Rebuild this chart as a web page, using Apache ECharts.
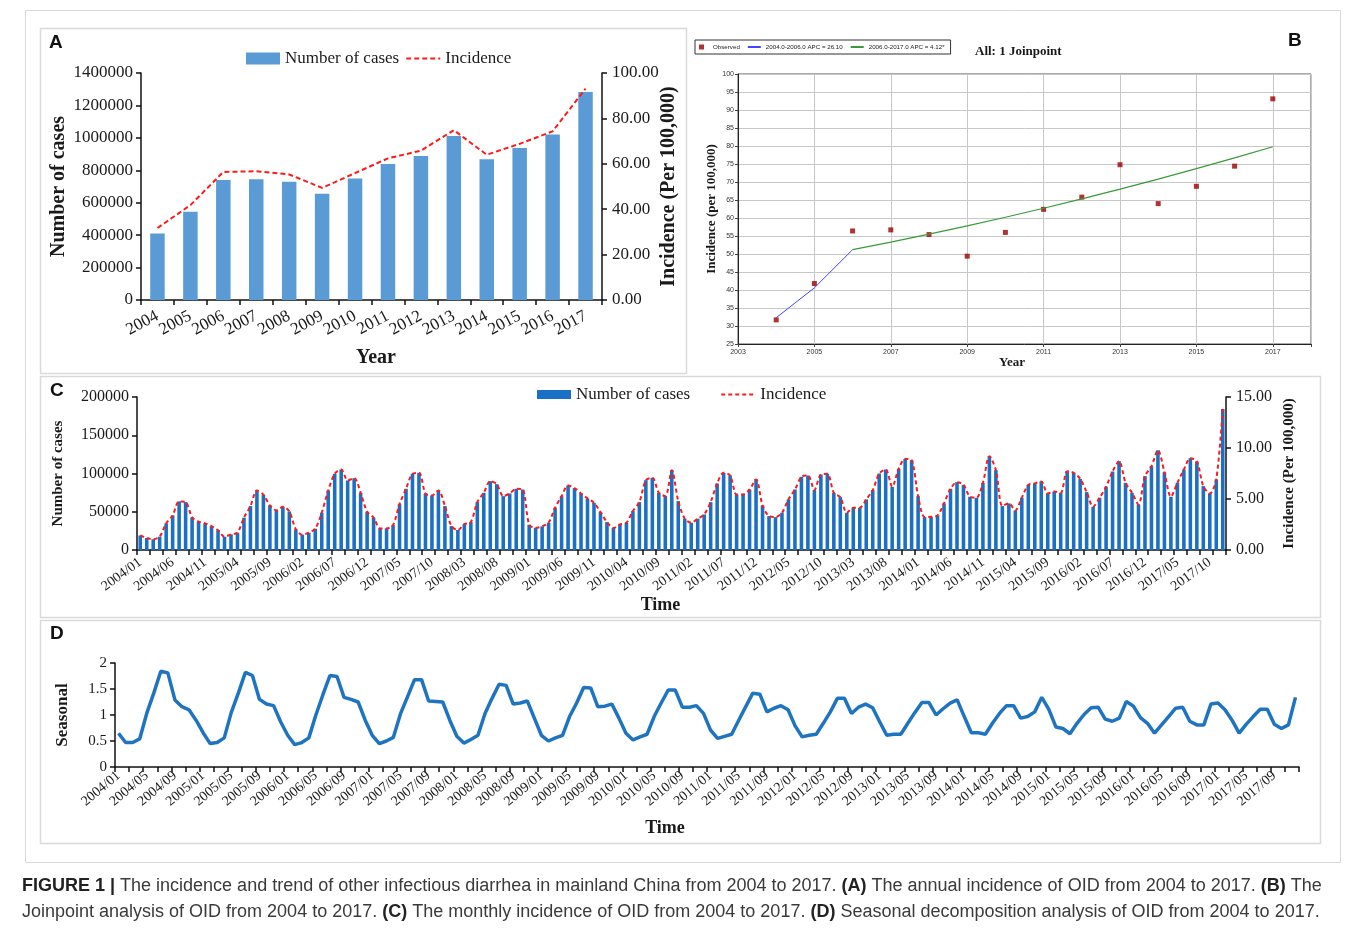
<!DOCTYPE html>
<html><head><meta charset="utf-8">
<script src="https://cdn.jsdelivr.net/npm/echarts@6/dist/echarts.min.js"></script>
<style>html,body{margin:0;padding:0;background:#fff;}#main{width:1357px;height:928px;}</style>
</head><body><div id="main"></div>
<script>
// ---------- Panel A: annual ----------
const years = ['2004','2005','2006','2007','2008','2009','2010','2011','2012','2013','2014','2015','2016','2017'];
const annualCases = [410000,545000,740000,745000,730000,655000,750000,838000,888000,1012000,868000,938000,1020000,1283000];
const annualIncidence = [31.7,41.8,56.4,56.7,55.3,49.4,55.9,62.4,65.8,74.8,64.0,68.8,74.3,93.1];

// ---------- Panel B: joinpoint ----------
const joinYears = [2004,2005,2006,2007,2008,2009,2010,2011,2012,2013,2014,2015,2016,2017];
const observed = [31.7,41.8,56.4,56.7,55.4,49.4,56.0,62.4,65.8,74.8,64.0,68.8,74.4,93.1];
const seg1Years = [2004,2005,2006];
const seg1Fit = [32.3,40.6,51.2];
const seg2Years = [2006,2007,2008,2009,2010,2011,2012,2013,2014,2015,2016,2017];
const seg2Fit = [51.2,53.3,55.5,57.8,60.2,62.7,65.3,68.0,70.8,73.7,76.7,79.8];

// ---------- Panel C: monthly ----------
const monthYears = ['2004','2005','2006','2007','2008','2009','2010','2011','2012','2013','2014','2015','2016','2017'];
const monthNums = ['01','02','03','04','05','06','07','08','09','10','11','12'];
const months = [];
monthYears.forEach(y => monthNums.forEach(m => months.push(y + '/' + m)));
const monthlyCases = [
 19000,15600,14000,17400,34800,45200,63500,62600,42600,37000,34800,31300,
 25700,17400,20400,22600,42200,57400,77800,72200,58300,51700,56500,50400,
 27000,20000,22600,27800,48700,77800,99600,105200,90900,93900,74800,50000,
 42200,28300,28300,32600,60000,80000,99600,100900,73900,71300,77800,57400,
 31300,26100,33900,36500,62600,74800,90000,86100,70400,73900,80000,79100,
 33000,29100,30900,35700,55200,70400,84300,80900,73900,67400,61700,49600,
 36500,28700,33500,35700,50900,62600,91300,94400,74800,70400,104300,63900,
 40900,35700,40900,46500,62600,87000,100900,97400,72600,72600,79100,92200,
 58300,44300,43000,48700,66100,79100,95700,97400,78300,98700,99600,74800,
 69100,48700,55200,55200,66100,78300,100000,105200,82600,106100,119100,117400,
 70400,43000,43500,45200,61000,80000,88700,85200,69600,68300,87800,122600,
 104300,57400,60900,51700,68300,85200,87000,89600,73900,76500,74800,103000,
 100900,93000,75700,56500,68300,82600,102600,116100,87800,74800,59600,96500,
 109600,130400,101700,69600,87800,105200,120000,115700,83500,73900,92200,184300];
const monthlyIncidence = [
 1.43,1.17,1.05,1.31,2.61,3.39,4.76,4.70,3.20,2.78,2.61,2.35,
 1.93,1.31,1.53,1.70,3.17,4.31,5.84,5.42,4.37,3.88,4.24,3.78,
 2.03,1.50,1.70,2.09,3.65,5.84,7.47,7.89,6.82,7.04,5.61,3.75,
 3.17,2.12,2.12,2.45,4.50,6.00,7.47,7.57,5.54,5.35,5.84,4.31,
 2.35,1.96,2.54,2.74,4.70,5.61,6.75,6.46,5.28,5.54,6.00,5.93,
 2.48,2.18,2.32,2.68,4.14,5.28,6.32,6.07,5.54,5.06,4.63,3.72,
 2.74,2.15,2.51,2.68,3.82,4.70,6.85,7.08,5.61,5.28,7.82,4.79,
 3.07,2.68,3.07,3.49,4.70,6.53,7.57,7.31,5.45,5.45,5.93,6.92,
 4.37,3.32,3.23,3.65,4.96,5.93,7.18,7.31,5.87,7.40,7.47,5.61,
 5.18,3.65,4.14,4.14,4.96,5.87,7.50,7.89,6.20,7.96,8.93,8.81,
 5.28,3.23,3.26,3.39,4.58,6.00,6.65,6.39,5.22,5.12,6.59,9.20,
 7.82,4.31,4.57,3.88,5.12,6.39,6.53,6.72,5.54,5.74,5.61,7.73,
 7.57,6.98,5.68,4.24,5.12,6.20,7.70,8.71,6.59,5.61,4.47,7.24,
 8.22,9.78,7.63,5.22,6.59,7.89,9.00,8.68,6.26,5.54,6.92,13.82];

// ---------- Panel D: seasonal ----------
const seasonal = [
 0.65,0.47,0.47,0.54,1.03,1.42,1.84,1.81,1.29,1.16,1.10,0.90,
 0.66,0.45,0.47,0.56,1.05,1.42,1.82,1.76,1.30,1.21,1.18,0.87,
 0.61,0.43,0.47,0.56,1.00,1.39,1.76,1.74,1.34,1.30,1.25,0.90,
 0.61,0.45,0.50,0.57,1.02,1.35,1.68,1.68,1.27,1.26,1.25,0.90,
 0.59,0.46,0.53,0.61,1.03,1.32,1.59,1.57,1.21,1.23,1.27,0.94,
 0.61,0.50,0.56,0.61,0.97,1.23,1.53,1.52,1.16,1.17,1.21,0.94,
 0.65,0.52,0.58,0.63,0.97,1.23,1.48,1.48,1.15,1.15,1.18,1.03,
 0.71,0.55,0.59,0.63,0.90,1.16,1.42,1.40,1.06,1.13,1.18,1.10,
 0.79,0.58,0.61,0.63,0.84,1.06,1.32,1.32,1.03,1.15,1.21,1.14,
 0.87,0.61,0.63,0.63,0.84,1.05,1.24,1.24,1.00,1.12,1.23,1.29,
 0.97,0.66,0.66,0.63,0.84,1.03,1.18,1.18,0.94,0.97,1.06,1.34,
 1.11,0.77,0.74,0.64,0.84,1.01,1.14,1.15,0.92,0.88,0.94,1.26,
 1.17,0.95,0.84,0.65,0.81,0.97,1.13,1.15,0.88,0.81,0.81,1.21,
 1.23,1.10,0.90,0.65,0.82,0.97,1.11,1.11,0.82,0.74,0.81,1.34];

const nameMap = {
  casesA:'Number of cases', incA:'Incidence', casesC:'Number of cases', incC:'Incidence',
  obs:'Observed', seg1:'2004.0-2006.0 APC = 26.10', seg2:'2006.0-2017.0 APC = 4.12*'
};

const serif = 'Liberation Serif';
const sans = 'Liberation Sans';
const ink = '#1a1a1a';
const axisLine = {show:true, lineStyle:{color:'#111', width:1.5}};
const axisTick = {show:true, length:5, lineStyle:{color:'#111', width:1.5}};
const frame = '#d9d9d9';
const noDot = {opacity:0};
const plain = v => String(v);

const chart = echarts.init(document.getElementById('main'), null, {renderer:'canvas'});

const option = {
  animation:false,
  backgroundColor:'#fff',
  grid:[
    {left:141, top:73, width:461, height:227},
    {left:738, top:74, width:573, height:270, show:true, borderColor:'#555', borderWidth:1, backgroundColor:'#fff'},
    {left:137, top:397, width:1089, height:153},
    {left:115, top:663, width:1184, height:104}
  ],
  legend:[
    {data:[{name:'casesA', icon:'rect'}, {name:'incA', itemStyle:noDot}], left:246, top:50, padding:0,
     itemWidth:34, itemHeight:12, itemGap:6, formatter:n=>nameMap[n],
     textStyle:{fontFamily:serif, fontSize:17, color:ink}},
    {data:[{name:'obs', icon:'path://M0,0H10V10H0Z'}, {name:'seg1', itemStyle:noDot}, {name:'seg2', itemStyle:noDot}], left:695, top:40,
     padding:[4,6,4,4], itemWidth:13, itemHeight:5, itemGap:7, borderColor:'#333', borderWidth:1,
     formatter:n=>nameMap[n], textStyle:{fontFamily:sans, fontSize:6.2, color:'#222'}},
    {data:[{name:'casesC', icon:'rect'}, {name:'incC', itemStyle:noDot}], left:537, top:386, padding:0,
     itemWidth:34, itemHeight:9, itemGap:30, formatter:n=>nameMap[n],
     textStyle:{fontFamily:serif, fontSize:17, color:ink}}
  ],
  xAxis:[
    {type:'category', gridIndex:0, data:years, axisLine, axisTick,
     axisLabel:{interval:0, rotate:28, fontFamily:serif, fontSize:17, color:ink, margin:15},
     name:'Year', nameLocation:'middle', nameGap:48, nameMoveOverlap:false,
     nameTextStyle:{fontFamily:serif, fontWeight:'bold', fontSize:20, color:ink, padding:[0,0,0,9]}},
    {type:'value', gridIndex:1, min:2003, max:2018, interval:2,
     axisLine:{show:true, lineStyle:{color:'#222', width:1}},
     axisTick:{show:true, length:3, lineStyle:{color:'#444'}},
     splitLine:{show:true, lineStyle:{color:'#c8c8c8', width:1}},
     axisLabel:{fontFamily:sans, fontSize:7, color:'#333', margin:5, formatter:v=>v===2018?'':String(v)},
     name:'Year', nameLocation:'middle', nameGap:12, nameMoveOverlap:false,
     nameTextStyle:{fontFamily:serif, fontWeight:'bold', fontSize:13, color:ink, padding:[0,25,0,0]}},
    {type:'category', gridIndex:2, data:months, axisLine,
     axisTick:{show:true, length:5, interval:1, lineStyle:{color:'#111', width:1.5}},
     axisLabel:{interval:4, rotate:36, fontFamily:serif, fontSize:14, color:ink, margin:11},
     name:'Time', nameLocation:'middle', nameGap:46, nameMoveOverlap:false,
     nameTextStyle:{fontFamily:serif, fontWeight:'bold', fontSize:18, color:ink, padding:[0,42,0,0]}},
    {type:'category', gridIndex:3, data:months, axisLine,
     axisTick:{show:true, length:5, interval:1, lineStyle:{color:'#111', width:1.5}},
     axisLabel:{interval:3, rotate:40, fontFamily:serif, fontSize:14, color:ink, margin:7},
     name:'Time', nameLocation:'middle', nameGap:52, nameMoveOverlap:false,
     nameTextStyle:{fontFamily:serif, fontWeight:'bold', fontSize:18, color:ink, padding:[0,84,0,0]}}
  ],
  yAxis:[
    {type:'value', gridIndex:0, min:0, max:1400000, interval:200000, axisLine, axisTick,
     splitLine:{show:false}, axisLabel:{fontFamily:serif, fontSize:17, color:ink, margin:8, formatter:plain},
     name:'Number of cases', nameLocation:'middle', nameRotate:90, nameGap:72, nameMoveOverlap:false,
     nameTextStyle:{fontFamily:serif, fontWeight:'bold', fontSize:20, color:ink}},
    {type:'value', gridIndex:0, position:'right', min:0, max:100, interval:20, axisLine, axisTick,
     splitLine:{show:false}, axisLabel:{fontFamily:serif, fontSize:17, color:ink, margin:10, formatter:v=>v.toFixed(2)},
     name:'Incidence (Per 100,000)', nameLocation:'middle', nameRotate:90, nameGap:57, nameMoveOverlap:false,
     nameTextStyle:{fontFamily:serif, fontWeight:'bold', fontSize:20, color:ink}},
    {type:'value', gridIndex:1, min:25, max:100, interval:5,
     axisLine:{show:true, lineStyle:{color:'#222', width:1}},
     axisTick:{show:true, length:3, lineStyle:{color:'#444'}},
     splitLine:{show:true, lineStyle:{color:'#c8c8c8', width:1}},
     axisLabel:{fontFamily:sans, fontSize:7, color:'#333', margin:4},
     name:'Incidence (per 100,000)', nameLocation:'middle', nameRotate:90, nameGap:20, nameMoveOverlap:false,
     nameTextStyle:{fontFamily:serif, fontWeight:'bold', fontSize:13, color:ink}},
    {type:'value', gridIndex:2, min:0, max:200000, interval:50000, axisLine, axisTick,
     splitLine:{show:false}, axisLabel:{fontFamily:serif, fontSize:16, color:ink, margin:8, formatter:plain},
     name:'Number of cases', nameLocation:'middle', nameRotate:90, nameGap:71, nameMoveOverlap:false,
     nameTextStyle:{fontFamily:serif, fontWeight:'bold', fontSize:15, color:ink}},
    {type:'value', gridIndex:2, position:'right', min:0, max:15, interval:5, axisLine, axisTick,
     splitLine:{show:false}, axisLabel:{fontFamily:serif, fontSize:16, color:ink, margin:10, formatter:v=>v.toFixed(2)},
     name:'Incidence (Per 100,000)', nameLocation:'middle', nameRotate:90, nameGap:56, nameMoveOverlap:false,
     nameTextStyle:{fontFamily:serif, fontWeight:'bold', fontSize:15, color:ink}},
    {type:'value', gridIndex:3, min:0, max:2, interval:0.5, axisLine, axisTick,
     splitLine:{show:false}, axisLabel:{fontFamily:serif, fontSize:15, color:ink, margin:8, formatter:plain},
     name:'Seasonal', nameLocation:'middle', nameRotate:90, nameGap:44, nameMoveOverlap:false,
     nameTextStyle:{fontFamily:serif, fontWeight:'bold', fontSize:17, color:ink}}
  ],
  series:[
    {name:'casesA', type:'bar', xAxisIndex:0, yAxisIndex:0, data:annualCases, barWidth:'44%',
     itemStyle:{color:'#5b9bd5'}},
    {name:'incA', type:'line', xAxisIndex:0, yAxisIndex:1, data:annualIncidence, symbol:'none',
     lineStyle:{color:'#ff1a1a', width:2, type:[5,3]}, itemStyle:{color:'#ff1a1a'}},
    {name:'obs', type:'scatter', xAxisIndex:1, yAxisIndex:2, symbol:'rect', symbolSize:5,
     data:joinYears.map((y,i)=>[y, observed[i]]), itemStyle:{color:'#9b0000'}},
    {name:'seg1', type:'line', xAxisIndex:1, yAxisIndex:2, symbol:'none',
     data:seg1Years.map((y,i)=>[y, seg1Fit[i]]), lineStyle:{color:'#4545ff', width:1}, itemStyle:{color:'#4545ff'}},
    {name:'seg2', type:'line', xAxisIndex:1, yAxisIndex:2, symbol:'none',
     data:seg2Years.map((y,i)=>[y, seg2Fit[i]]), lineStyle:{color:'#3a9a3a', width:1.2}, itemStyle:{color:'#2a7d2a'}},
    {name:'casesC', type:'bar', xAxisIndex:2, yAxisIndex:3, data:monthlyCases, barWidth:'55%',
     itemStyle:{color:'#1a6fc7'}},
    {name:'incC', type:'line', xAxisIndex:2, yAxisIndex:4, data:monthlyIncidence, symbol:'none', smooth:0.3,
     lineStyle:{color:'#ff1a1a', width:2, type:[4,3]}, itemStyle:{color:'#ff1a1a'}},
    {name:'seasonal', type:'line', xAxisIndex:3, yAxisIndex:5, data:seasonal, symbol:'none',
     lineStyle:{color:'#1f74c1', width:3.5}, itemStyle:{color:'#1f74c1'}}
  ],
  graphic:[
    {type:'rect', z:-10, shape:{x:25.5, y:10.5, width:1315, height:852}, style:{fill:'none', stroke:frame, lineWidth:1}},
    {type:'rect', z:-10, shape:{x:40.5, y:28.5, width:646, height:345}, style:{fill:'none', stroke:frame, lineWidth:1.5}},
    {type:'rect', z:-10, shape:{x:40.5, y:376.5, width:1280, height:241}, style:{fill:'none', stroke:frame, lineWidth:1.5}},
    {type:'rect', z:-10, shape:{x:40.5, y:620.5, width:1280, height:223}, style:{fill:'none', stroke:frame, lineWidth:1.5}},
    {type:'text', left:49, top:33, style:{text:'A', fontFamily:sans, fontWeight:'bold', fontSize:19, fill:'#111'}},
    {type:'text', left:1288, top:31, style:{text:'B', fontFamily:sans, fontWeight:'bold', fontSize:19, fill:'#111'}},
    {type:'text', left:50, top:381, style:{text:'C', fontFamily:sans, fontWeight:'bold', fontSize:19, fill:'#111'}},
    {type:'text', left:50, top:624, style:{text:'D', fontFamily:sans, fontWeight:'bold', fontSize:19, fill:'#111'}},
    {type:'text', left:975, top:45, style:{text:'All: 1 Joinpoint', fontFamily:serif, fontWeight:'bold', fontSize:13, fill:ink}},
    {type:'text', left:22, top:877, style:{
      text:'{b|FIGURE 1 |} The incidence and trend of other infectious diarrhea in mainland China from 2004 to 2017. {b|(A)} The annual incidence of OID from 2004 to 2017. {b|(B)} The',
      fontFamily:sans, fontSize:18, fill:'#3a3a3a',
      rich:{b:{fontFamily:sans, fontSize:18, fontWeight:'bold', fill:'#222'}}}},
    {type:'text', left:22, top:903, style:{
      text:'Joinpoint analysis of OID from 2004 to 2017. {b|(C)} The monthly incidence of OID from 2004 to 2017. {b|(D)} Seasonal decomposition analysis of OID from 2004 to 2017.',
      fontFamily:sans, fontSize:18, fill:'#3a3a3a',
      rich:{b:{fontFamily:sans, fontSize:18, fontWeight:'bold', fill:'#222'}}}}
  ]
};
chart.setOption(option);
</script>
</body></html>
